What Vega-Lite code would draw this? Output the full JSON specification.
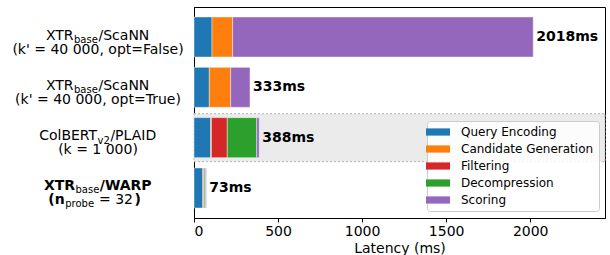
{
  "$schema": "https://vega.github.io/schema/vega-lite/v6.json",
  "width": 411,
  "height": 211,
  "autosize": {"type": "none"},
  "padding": {"left": 194, "top": 7, "right": 5, "bottom": 37},
  "datasets": {
    "segments": [
      {"method": "scann_false", "stage": "Query Encoding", "k": 1, "ms": 107},
      {"method": "scann_false", "stage": "Candidate Generation", "k": 2, "ms": 123},
      {"method": "scann_false", "stage": "Scoring", "k": 5, "ms": 1788},
      {"method": "scann_true", "stage": "Query Encoding", "k": 1, "ms": 91},
      {"method": "scann_true", "stage": "Candidate Generation", "k": 2, "ms": 127},
      {"method": "scann_true", "stage": "Scoring", "k": 5, "ms": 115},
      {"method": "colbert", "stage": "Query Encoding", "k": 1, "ms": 99},
      {"method": "colbert", "stage": "Candidate Generation", "k": 2, "ms": 5},
      {"method": "colbert", "stage": "Filtering", "k": 3, "ms": 94},
      {"method": "colbert", "stage": "Decompression", "k": 4, "ms": 175},
      {"method": "colbert", "stage": "Scoring", "k": 5, "ms": 15},
      {"method": "warp", "stage": "Query Encoding", "k": 1, "ms": 52},
      {"method": "warp", "stage": "Candidate Generation", "k": 2, "ms": 5},
      {"method": "warp", "stage": "Filtering", "k": 3, "ms": 4},
      {"method": "warp", "stage": "Decompression", "k": 4, "ms": 7},
      {"method": "warp", "stage": "Scoring", "k": 5, "ms": 5}
    ],
    "totals": [
      {"method": "scann_false", "total": 2018, "label": "2018ms"},
      {"method": "scann_true", "total": 333, "label": "333ms"},
      {"method": "colbert", "total": 388, "label": "388ms"},
      {"method": "warp", "total": 73, "label": "73ms"}
    ],
    "labels": [
      {"method": "scann_false", "piece": "x1", "text": "XTR"},
      {"method": "scann_false", "piece": "x2", "text": "base"},
      {"method": "scann_false", "piece": "x3", "text": "/ScaNN"},
      {"method": "scann_false", "piece": "p", "text": "(k' = 40 000, opt=False)"},
      {"method": "scann_true", "piece": "x1", "text": "XTR"},
      {"method": "scann_true", "piece": "x2", "text": "base"},
      {"method": "scann_true", "piece": "x3", "text": "/ScaNN"},
      {"method": "scann_true", "piece": "p", "text": "(k' = 40 000, opt=True)"},
      {"method": "colbert", "piece": "c1", "text": "ColBERT"},
      {"method": "colbert", "piece": "c2", "text": "v2"},
      {"method": "colbert", "piece": "c3", "text": "/PLAID"},
      {"method": "colbert", "piece": "p", "text": "(k = 1 000)"},
      {"method": "warp", "piece": "w1", "text": "XTR"},
      {"method": "warp", "piece": "w2", "text": "base"},
      {"method": "warp", "piece": "w3", "text": "/WARP"},
      {"method": "warp", "piece": "n1", "text": "(n"},
      {"method": "warp", "piece": "n2", "text": "probe"},
      {"method": "warp", "piece": "n3", "text": "= 32"},
      {"method": "warp", "piece": "n4", "text": ")"}
    ],
    "highlight": [{"method": "colbert"}]
  },
  "encoding": {
    "y": {
      "field": "method",
      "type": "nominal",
      "sort": ["scann_false", "scann_true", "colbert", "warp"],
      "scale": {"paddingInner": 0.205, "paddingOuter": 0.199},
      "axis": {"labels": false, "ticks": false, "title": null, "domainColor": "black"}
    }
  },
  "layer": [
    {
      "data": {"name": "highlight"},
      "mark": {"type": "bar", "size": 48, "fill": "#ebebeb", "stroke": "#b5b5b5", "strokeDash": [2, 2], "strokeWidth": 1},
      "encoding": {
        "x": {"datum": 0, "type": "quantitative", "scale": {"domain": [0, 2445], "nice": false}, "axis": {"values": [0, 500, 1000, 1500, 2000], "format": "d", "title": "Latency (ms)", "tickSize": 4, "labelPadding": 2, "titlePadding": 3, "domainColor": "black"}},
        "x2": {"datum": 2445}
      }
    },
    {
      "data": {"name": "segments"},
      "mark": {"type": "bar", "stroke": "white", "strokeWidth": 0.6, "strokeOpacity": 0.7},
      "encoding": {
        "x": {"field": "ms", "type": "quantitative", "stack": "zero"},
        "color": {
          "field": "stage",
          "type": "nominal",
          "scale": {
            "domain": ["Query Encoding", "Candidate Generation", "Filtering", "Decompression", "Scoring"],
            "range": ["#1f77b4", "#ff7f0e", "#d62728", "#2ca02c", "#9467bd"]
          },
          "legend": {
            "orient": "none",
            "legendX": 233,
            "legendY": 114,
            "title": null,
            "symbolType": "M-3,-0.9H3V0.9H-3Z",
            "symbolSize": 64,
            "symbolStrokeWidth": 0,
            "symbolOpacity": 1,
            "labelFontSize": 12,
            "labelFont": "DejaVu Sans",
            "labelColor": "black",
            "labelOffset": 17,
            "rowPadding": 5,
            "padding": 5,
            "fillColor": "rgba(255,255,255,0.85)",
            "strokeColor": "#cccccc",
            "cornerRadius": 3
          }
        },
        "order": {"field": "k", "type": "quantitative"}
      }
    },
    {
      "data": {"name": "totals"},
      "mark": {"type": "text", "align": "left", "baseline": "middle", "dx": 3, "font": "DejaVu Sans", "fontSize": 14, "fontWeight": "bold", "color": "black"},
      "encoding": {"x": {"field": "total", "type": "quantitative"}, "text": {"field": "label"}}
    },
    {
      "data": {"name": "labels"},
      "transform": [{"filter": "datum.piece === 'x1'"}],
      "mark": {"type": "text", "align": "right", "baseline": "alphabetic", "dx": -120.5, "dy": 2.5, "font": "DejaVu Sans", "fontSize": 14, "color": "black"},
      "encoding": {"x": {"datum": 0}, "text": {"field": "text"}}
    },
    {
      "data": {"name": "labels"},
      "transform": [{"filter": "datum.piece === 'x2'"}],
      "mark": {"type": "text", "align": "left", "baseline": "alphabetic", "dx": -120, "dy": 6, "font": "DejaVu Sans", "fontSize": 10, "color": "black"},
      "encoding": {"x": {"datum": 0}, "text": {"field": "text"}}
    },
    {
      "data": {"name": "labels"},
      "transform": [{"filter": "datum.piece === 'x3'"}],
      "mark": {"type": "text", "align": "left", "baseline": "alphabetic", "dx": -95.5, "dy": 2.5, "font": "DejaVu Sans", "fontSize": 14, "color": "black"},
      "encoding": {"x": {"datum": 0}, "text": {"field": "text"}}
    },
    {
      "data": {"name": "labels"},
      "transform": [{"filter": "datum.piece === 'c1'"}],
      "mark": {"type": "text", "align": "right", "baseline": "alphabetic", "dx": -96.9, "dy": 2.5, "font": "DejaVu Sans", "fontSize": 14, "color": "black"},
      "encoding": {"x": {"datum": 0}, "text": {"field": "text"}}
    },
    {
      "data": {"name": "labels"},
      "transform": [{"filter": "datum.piece === 'c2'"}],
      "mark": {"type": "text", "align": "left", "baseline": "alphabetic", "dx": -96.4, "dy": 6, "font": "DejaVu Sans", "fontSize": 10, "color": "black"},
      "encoding": {"x": {"datum": 0}, "text": {"field": "text"}}
    },
    {
      "data": {"name": "labels"},
      "transform": [{"filter": "datum.piece === 'c3'"}],
      "mark": {"type": "text", "align": "left", "baseline": "alphabetic", "dx": -83.6, "dy": 2.5, "font": "DejaVu Sans", "fontSize": 14, "color": "black"},
      "encoding": {"x": {"datum": 0}, "text": {"field": "text"}}
    },
    {
      "data": {"name": "labels"},
      "transform": [{"filter": "datum.piece === 'p'"}],
      "mark": {"type": "text", "align": "center", "baseline": "alphabetic", "dx": -96, "dy": 16.5, "font": "DejaVu Sans", "fontSize": 14, "color": "black"},
      "encoding": {"x": {"datum": 0}, "text": {"field": "text"}}
    },
    {
      "data": {"name": "labels"},
      "transform": [{"filter": "datum.piece === 'w1'"}],
      "mark": {"type": "text", "align": "right", "baseline": "alphabetic", "dx": -119, "dy": 2, "font": "DejaVu Sans", "fontSize": 14, "fontWeight": "bold", "color": "black"},
      "encoding": {"x": {"datum": 0}, "text": {"field": "text"}}
    },
    {
      "data": {"name": "labels"},
      "transform": [{"filter": "datum.piece === 'w2'"}],
      "mark": {"type": "text", "align": "left", "baseline": "alphabetic", "dx": -118.5, "dy": 5.5, "font": "DejaVu Sans", "fontSize": 10, "color": "black"},
      "encoding": {"x": {"datum": 0}, "text": {"field": "text"}}
    },
    {
      "data": {"name": "labels"},
      "transform": [{"filter": "datum.piece === 'w3'"}],
      "mark": {"type": "text", "align": "left", "baseline": "alphabetic", "dx": -94.2, "dy": 2, "font": "DejaVu Sans", "fontSize": 14, "fontWeight": "bold", "color": "black"},
      "encoding": {"x": {"datum": 0}, "text": {"field": "text"}}
    },
    {
      "data": {"name": "labels"},
      "transform": [{"filter": "datum.piece === 'n1'"}],
      "mark": {"type": "text", "align": "right", "baseline": "alphabetic", "dx": -129.3, "dy": 16, "font": "DejaVu Sans", "fontSize": 14, "fontWeight": "bold", "color": "black"},
      "encoding": {"x": {"datum": 0}, "text": {"field": "text"}}
    },
    {
      "data": {"name": "labels"},
      "transform": [{"filter": "datum.piece === 'n2'"}],
      "mark": {"type": "text", "align": "left", "baseline": "alphabetic", "dx": -128.8, "dy": 19.5, "font": "DejaVu Sans", "fontSize": 10, "color": "black"},
      "encoding": {"x": {"datum": 0}, "text": {"field": "text"}}
    },
    {
      "data": {"name": "labels"},
      "transform": [{"filter": "datum.piece === 'n3'"}],
      "mark": {"type": "text", "align": "left", "baseline": "alphabetic", "dx": -95, "dy": 16, "font": "DejaVu Sans", "fontSize": 14, "color": "black"},
      "encoding": {"x": {"datum": 0}, "text": {"field": "text"}}
    },
    {
      "data": {"name": "labels"},
      "transform": [{"filter": "datum.piece === 'n4'"}],
      "mark": {"type": "text", "align": "left", "baseline": "alphabetic", "dx": -59.5, "dy": 16, "font": "DejaVu Sans", "fontSize": 14, "fontWeight": "bold", "color": "black"},
      "encoding": {"x": {"datum": 0}, "text": {"field": "text"}}
    }
  ],
  "config": {
    "font": "DejaVu Sans",
    "view": {"stroke": "black", "strokeWidth": 1},
    "axis": {
      "domainColor": "black",
      "tickColor": "black",
      "labelColor": "black",
      "titleColor": "black",
      "labelFontSize": 14,
      "titleFontSize": 14,
      "titleFontWeight": "normal",
      "labelFont": "DejaVu Sans",
      "titleFont": "DejaVu Sans",
      "grid": false
    }
  }
}
